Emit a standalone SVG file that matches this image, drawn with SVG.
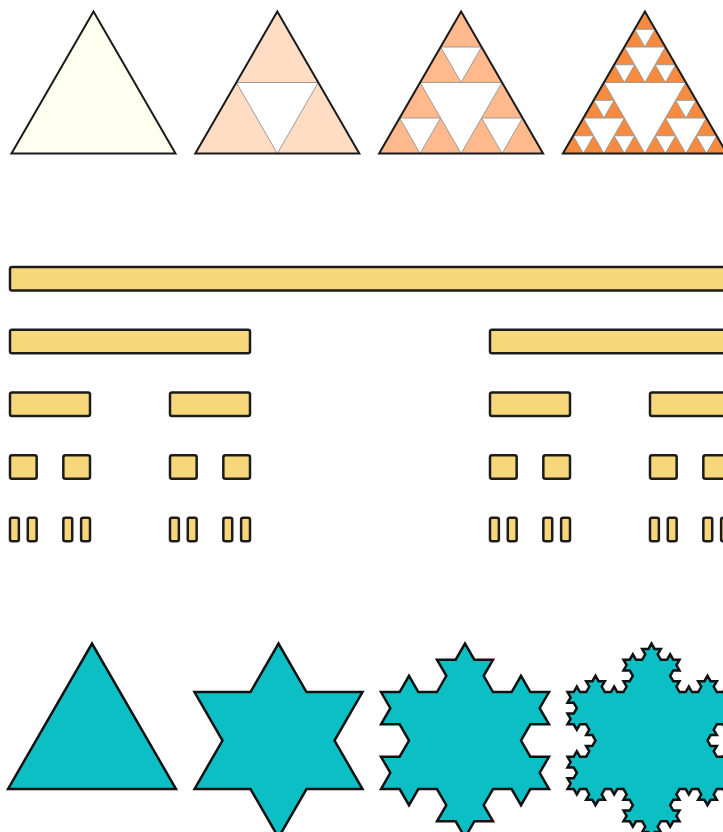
<svg xmlns="http://www.w3.org/2000/svg" xmlns:xlink="http://www.w3.org/1999/xlink" width="723" height="832" viewBox="0 0 723 832">
<style>
.outer{stroke:#1a1a1a;stroke-width:2;stroke-linejoin:miter;fill:none}
.hole{fill:#ffffff;stroke:#a09a96;stroke-width:1}
.bar{fill:#f6d77a;stroke:#1c1c1c;stroke-width:2.5}
.koch{fill:#0cbfc4;stroke:#111;stroke-width:2.5;stroke-linejoin:miter}
</style>
<defs>
<polygon id="tri" points="0,142 82,0 164,142"/>
<g id="h1" class="hole"><polygon points="41,71 123,71 82,142"/></g>
<g id="h2" class="hole">
<polygon points="61.5,35.5 102.5,35.5 82,71"/>
<polygon points="20.5,106.5 61.5,106.5 41,142"/>
<polygon points="102.5,106.5 143.5,106.5 123,142"/>
</g>
<g id="h3" class="hole">
<polygon points="71.75,17.75 92.25,17.75 82,35.5"/>
<polygon points="51.25,53.25 71.75,53.25 61.5,71"/>
<polygon points="92.25,53.25 112.75,53.25 102.5,71"/>
<polygon points="30.75,88.75 51.25,88.75 41,106.5"/>
<polygon points="10.25,124.25 30.75,124.25 20.5,142"/>
<polygon points="51.25,124.25 71.75,124.25 61.5,142"/>
<polygon points="112.75,88.75 133.25,88.75 123,106.5"/>
<polygon points="92.25,124.25 112.75,124.25 102.5,142"/>
<polygon points="133.25,124.25 153.75,124.25 143.5,142"/>
</g>
</defs>
<rect width="723" height="832" fill="#ffffff"/>

<g id="sierpinski-0" transform="translate(11.5,11.5)">
<use xlink:href="#tri" fill="#fffff0"/>
<use xlink:href="#tri" class="outer"/>
</g>
<g id="sierpinski-1" transform="translate(195.3,11.5)">
<use xlink:href="#tri" fill="#ffdcc4"/>
<use xlink:href="#h1"/>
<use xlink:href="#tri" class="outer"/>
</g>
<g id="sierpinski-2" transform="translate(379.1,11.5)">
<use xlink:href="#tri" fill="#ffb98c"/>
<use xlink:href="#h1"/>
<use xlink:href="#h2"/>
<use xlink:href="#tri" class="outer"/>
</g>
<g id="sierpinski-3" transform="translate(562.9,11.5)">
<use xlink:href="#tri" fill="#f68a3f"/>
<use xlink:href="#h1"/>
<use xlink:href="#h2"/>
<use xlink:href="#h3"/>
<use xlink:href="#tri" class="outer"/>
</g>

<g id="cantor-0">
<rect class="bar" x="10" y="267" width="720" height="23.5" rx="2"/>
</g>
<g id="cantor-1">
<rect class="bar" x="10" y="329.7" width="240" height="23.5" rx="2"/>
<rect class="bar" x="490" y="329.7" width="240" height="23.5" rx="2"/>
</g>
<g id="cantor-2">
<rect class="bar" x="10" y="392.5" width="80" height="23.5" rx="2"/>
<rect class="bar" x="170" y="392.5" width="80" height="23.5" rx="2"/>
<rect class="bar" x="490" y="392.5" width="80" height="23.5" rx="2"/>
<rect class="bar" x="650" y="392.5" width="80" height="23.5" rx="2"/>
</g>
<g id="cantor-3">
<rect class="bar" x="10" y="455.2" width="26.67" height="23.5" rx="2"/>
<rect class="bar" x="63.33" y="455.2" width="26.67" height="23.5" rx="2"/>
<rect class="bar" x="170" y="455.2" width="26.67" height="23.5" rx="2"/>
<rect class="bar" x="223.33" y="455.2" width="26.67" height="23.5" rx="2"/>
<rect class="bar" x="490" y="455.2" width="26.67" height="23.5" rx="2"/>
<rect class="bar" x="543.33" y="455.2" width="26.67" height="23.5" rx="2"/>
<rect class="bar" x="650" y="455.2" width="26.67" height="23.5" rx="2"/>
<rect class="bar" x="703.33" y="455.2" width="26.67" height="23.5" rx="2"/>
</g>
<g id="cantor-4">
<rect class="bar" x="10" y="517.8" width="8.89" height="23.5" rx="2"/>
<rect class="bar" x="27.78" y="517.8" width="8.89" height="23.5" rx="2"/>
<rect class="bar" x="63.33" y="517.8" width="8.89" height="23.5" rx="2"/>
<rect class="bar" x="81.11" y="517.8" width="8.89" height="23.5" rx="2"/>
<rect class="bar" x="170" y="517.8" width="8.89" height="23.5" rx="2"/>
<rect class="bar" x="187.78" y="517.8" width="8.89" height="23.5" rx="2"/>
<rect class="bar" x="223.33" y="517.8" width="8.89" height="23.5" rx="2"/>
<rect class="bar" x="241.11" y="517.8" width="8.89" height="23.5" rx="2"/>
<rect class="bar" x="490" y="517.8" width="8.89" height="23.5" rx="2"/>
<rect class="bar" x="507.78" y="517.8" width="8.89" height="23.5" rx="2"/>
<rect class="bar" x="543.33" y="517.8" width="8.89" height="23.5" rx="2"/>
<rect class="bar" x="561.11" y="517.8" width="8.89" height="23.5" rx="2"/>
<rect class="bar" x="650" y="517.8" width="8.89" height="23.5" rx="2"/>
<rect class="bar" x="667.78" y="517.8" width="8.89" height="23.5" rx="2"/>
<rect class="bar" x="703.33" y="517.8" width="8.89" height="23.5" rx="2"/>
<rect class="bar" x="721.11" y="517.8" width="8.89" height="23.5" rx="2"/>
</g>

<g id="koch-0">
<polygon class="koch" points="8,789 92,643.5 176,789"/>
</g>
<g id="koch-1">
<polygon class="koch" points="194.5,789 222.5,740.5 194.5,692 250.5,692 278.5,643.5 306.5,692 362.5,692 334.5,740.5 362.5,789 306.5,789 278.5,837.5 250.5,789"/>
</g>
<g id="koch-2">
<path class="koch" d="M381 789 l
9.3333,-16.1658 -9.3333,-16.1658 18.6667,0 9.3333,-16.1658
-9.3333,-16.1658 -18.6667,0 9.3333,-16.1658 -9.3333,-16.1658
18.6667,0 9.3333,-16.1658 9.3333,16.1658 18.6667,0
9.3333,-16.1658 -9.3333,-16.1658 18.6667,0 9.3333,-16.1658
9.3333,16.1658 18.6667,0 -9.3333,16.1658 9.3333,16.1658
18.6667,0 9.3333,-16.1658 9.3333,16.1658 18.6667,0
-9.3333,16.1658 9.3333,16.1658 -18.6667,0 -9.3333,16.1658
9.3333,16.1658 18.6667,0 -9.3333,16.1658 9.3333,16.1658
-18.6667,0 -9.3333,16.1658 -9.3333,-16.1658 -18.6667,0
-9.3333,16.1658 9.3333,16.1658 -18.6667,0 -9.3333,16.1658
-9.3333,-16.1658 -18.6667,0 9.3333,-16.1658 -9.3333,-16.1658
-18.6667,0 -9.3333,16.1658 -9.3333,-16.1658 -18.6667,0 z"/>
</g>
<g id="koch-3">
<path class="koch" d="M567.5 789 l
3.1111,-5.3886 -3.1111,-5.3886 6.2222,0 3.1111,-5.3886
-3.1111,-5.3886 -6.2222,0 3.1111,-5.3886 -3.1111,-5.3886
6.2222,0 3.1111,-5.3886 3.1111,5.3886 6.2222,0
3.1111,-5.3886 -3.1111,-5.3886 6.2222,0 3.1111,-5.3886
-3.1111,-5.3886 -6.2222,0 3.1111,-5.3886 -3.1111,-5.3886
-6.2222,0 -3.1111,5.3886 -3.1111,-5.3886 -6.2222,0
3.1111,-5.3886 -3.1111,-5.3886 6.2222,0 3.1111,-5.3886
-3.1111,-5.3886 -6.2222,0 3.1111,-5.3886 -3.1111,-5.3886
6.2222,0 3.1111,-5.3886 3.1111,5.3886 6.2222,0
3.1111,-5.3886 -3.1111,-5.3886 6.2222,0 3.1111,-5.3886
3.1111,5.3886 6.2222,0 -3.1111,5.3886 3.1111,5.3886
6.2222,0 3.1111,-5.3886 3.1111,5.3886 6.2222,0
3.1111,-5.3886 -3.1111,-5.3886 6.2222,0 3.1111,-5.3886
-3.1111,-5.3886 -6.2222,0 3.1111,-5.3886 -3.1111,-5.3886
6.2222,0 3.1111,-5.3886 3.1111,5.3886 6.2222,0
3.1111,-5.3886 -3.1111,-5.3886 6.2222,0 3.1111,-5.3886
3.1111,5.3886 6.2222,0 -3.1111,5.3886 3.1111,5.3886
6.2222,0 3.1111,-5.3886 3.1111,5.3886 6.2222,0
-3.1111,5.3886 3.1111,5.3886 -6.2222,0 -3.1111,5.3886
3.1111,5.3886 6.2222,0 -3.1111,5.3886 3.1111,5.3886
6.2222,0 3.1111,-5.3886 3.1111,5.3886 6.2222,0
3.1111,-5.3886 -3.1111,-5.3886 6.2222,0 3.1111,-5.3886
3.1111,5.3886 6.2222,0 -3.1111,5.3886 3.1111,5.3886
6.2222,0 3.1111,-5.3886 3.1111,5.3886 6.2222,0
-3.1111,5.3886 3.1111,5.3886 -6.2222,0 -3.1111,5.3886
3.1111,5.3886 6.2222,0 -3.1111,5.3886 3.1111,5.3886
-6.2222,0 -3.1111,5.3886 -3.1111,-5.3886 -6.2222,0
-3.1111,5.3886 3.1111,5.3886 -6.2222,0 -3.1111,5.3886
3.1111,5.3886 6.2222,0 -3.1111,5.3886 3.1111,5.3886
6.2222,0 3.1111,-5.3886 3.1111,5.3886 6.2222,0
-3.1111,5.3886 3.1111,5.3886 -6.2222,0 -3.1111,5.3886
3.1111,5.3886 6.2222,0 -3.1111,5.3886 3.1111,5.3886
-6.2222,0 -3.1111,5.3886 -3.1111,-5.3886 -6.2222,0
-3.1111,5.3886 3.1111,5.3886 -6.2222,0 -3.1111,5.3886
-3.1111,-5.3886 -6.2222,0 3.1111,-5.3886 -3.1111,-5.3886
-6.2222,0 -3.1111,5.3886 -3.1111,-5.3886 -6.2222,0
-3.1111,5.3886 3.1111,5.3886 -6.2222,0 -3.1111,5.3886
3.1111,5.3886 6.2222,0 -3.1111,5.3886 3.1111,5.3886
-6.2222,0 -3.1111,5.3886 -3.1111,-5.3886 -6.2222,0
-3.1111,5.3886 3.1111,5.3886 -6.2222,0 -3.1111,5.3886
-3.1111,-5.3886 -6.2222,0 3.1111,-5.3886 -3.1111,-5.3886
-6.2222,0 -3.1111,5.3886 -3.1111,-5.3886 -6.2222,0
3.1111,-5.3886 -3.1111,-5.3886 6.2222,0 3.1111,-5.3886
-3.1111,-5.3886 -6.2222,0 3.1111,-5.3886 -3.1111,-5.3886
-6.2222,0 -3.1111,5.3886 -3.1111,-5.3886 -6.2222,0
-3.1111,5.3886 3.1111,5.3886 -6.2222,0 -3.1111,5.3886
-3.1111,-5.3886 -6.2222,0 3.1111,-5.3886 -3.1111,-5.3886
-6.2222,0 -3.1111,5.3886 -3.1111,-5.3886 -6.2222,0 z"/>
</g>
</svg>
